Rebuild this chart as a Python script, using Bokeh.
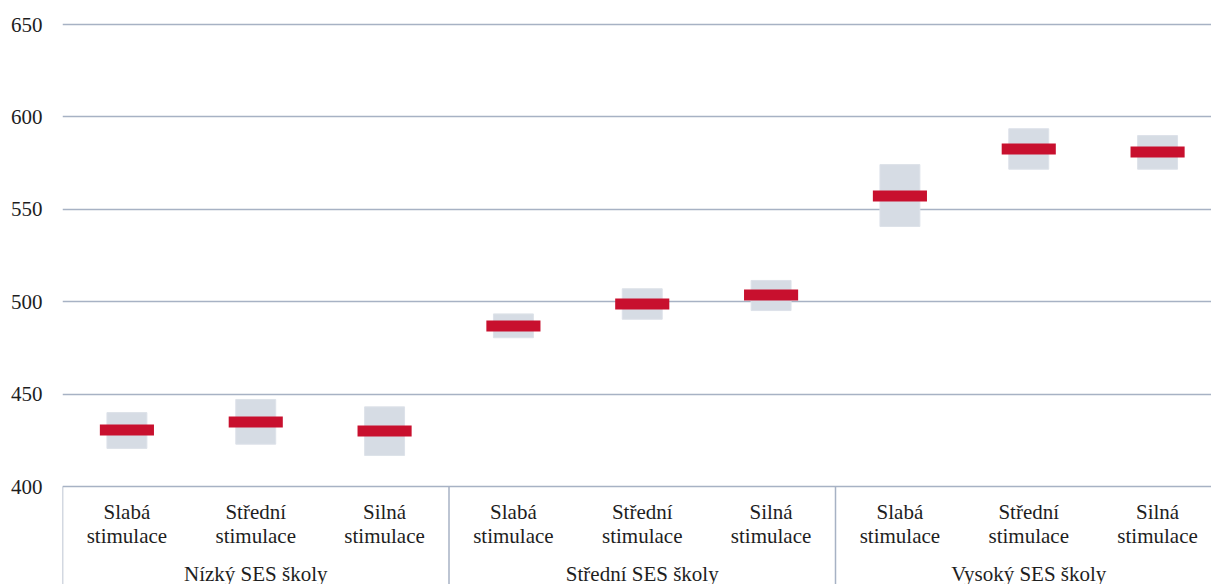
from bokeh.plotting import figure
from bokeh.models import Range1d, FixedTicker, ColumnDataSource
from bokeh.core.properties import value
from bokeh.embed import file_html
from bokeh.resources import INLINE

# ---- data ----
groups = ["Nízký SES školy", "Střední SES školy", "Vysoký SES školy"]
categories = ["Slabá stimulace", "Střední stimulace", "Silná stimulace"]
means = [430.6, 434.9, 430.0, 486.9, 498.8, 503.6, 557.2, 582.6, 581.0]
ci_low = [420.6, 422.9, 416.8, 480.5, 490.5, 495.2, 540.7, 571.7, 571.7]
ci_high = [440.0, 447.1, 443.1, 493.4, 507.0, 511.5, 574.2, 593.6, 589.9]
y_ticks = [400, 450, 500, 550, 600, 650]

FONT_NAME = "Liberation Serif"
FONT = value(FONT_NAME)
LINE_COLOR = "#a7b2c4"
TEXT_COLOR = "#1e1e1e"
n = len(groups) * len(categories)
xs = [i + 0.5 for i in range(n)]

# pixel scale helper (1.848 px per unit)
PX = 1.848
def below(px_from_400):
    return 400 - px_from_400 / PX

p = figure(width=1211, height=584, output_backend="svg", toolbar_location=None,
           x_range=Range1d(0, n * 1149 / 1159.5),
           y_range=Range1d(below(98), 650 + 24 / PX),
           x_axis_location=None, min_border_left=62, min_border_right=0,
           min_border_top=0, min_border_bottom=0)
p.outline_line_color = None
p.background_fill_color = "white"
p.border_fill_color = "white"

# y axis
p.yaxis.ticker = FixedTicker(ticks=y_ticks)
p.yaxis.axis_line_color = None
p.yaxis.major_tick_line_color = None
p.yaxis.minor_tick_line_color = None
p.yaxis.major_label_text_font = FONT_NAME
p.yaxis.major_label_text_font_size = "21px"
p.yaxis.major_label_text_color = TEXT_COLOR
p.yaxis.major_label_standoff = 14
p.xgrid.visible = False
p.ygrid.ticker = FixedTicker(ticks=[t for t in y_ticks if t > 400])
p.ygrid.grid_line_color = LINE_COLOR
p.ygrid.grid_line_width = 1.5

# axis box lines
p.segment(x0=[0], y0=[400], x1=[n], y1=[400], line_color=LINE_COLOR, line_width=1.5)
sep_x = [0] + [len(categories) * (g + 1) for g in range(len(groups) - 1)]
p.segment(x0=sep_x, y0=[400] * len(sep_x), x1=sep_x, y1=[below(110)] * len(sep_x),
          line_color=LINE_COLOR, line_width=1.5)

# CI boxes and mean markers
src = ColumnDataSource(dict(x=xs, mean=means, lo=ci_low, hi=ci_high))
p.vbar(x="x", bottom="lo", top="hi", width=0.31, source=src,
       fill_color="#d6dce4", line_color="#dde2e9", line_width=1)
p.rect(x="x", y="mean", width=0.42, height=11, height_units="screen", source=src,
       fill_color="#c8102e", line_color=None)

# category labels
line1 = [c.split(" ")[0] for c in categories] * len(groups)
line2 = [c.split(" ")[1] for c in categories] * len(groups)
p.text(x=xs, y=[below(25)] * n, text=line1, text_font=FONT, text_font_size="21px",
       text_align="center", text_baseline="middle", text_color=TEXT_COLOR)
p.text(x=xs, y=[below(49)] * n, text=line2, text_font=FONT, text_font_size="21px",
       text_align="center", text_baseline="middle", text_color=TEXT_COLOR)
gx = [len(categories) * g + len(categories) / 2 for g in range(len(groups))]
p.text(x=gx, y=[below(87)] * len(groups), text=groups, text_font=FONT, text_font_size="21px",
       text_align="center", text_baseline="middle", text_color=TEXT_COLOR)

open("out.html", "w").write(file_html(p, INLINE))
